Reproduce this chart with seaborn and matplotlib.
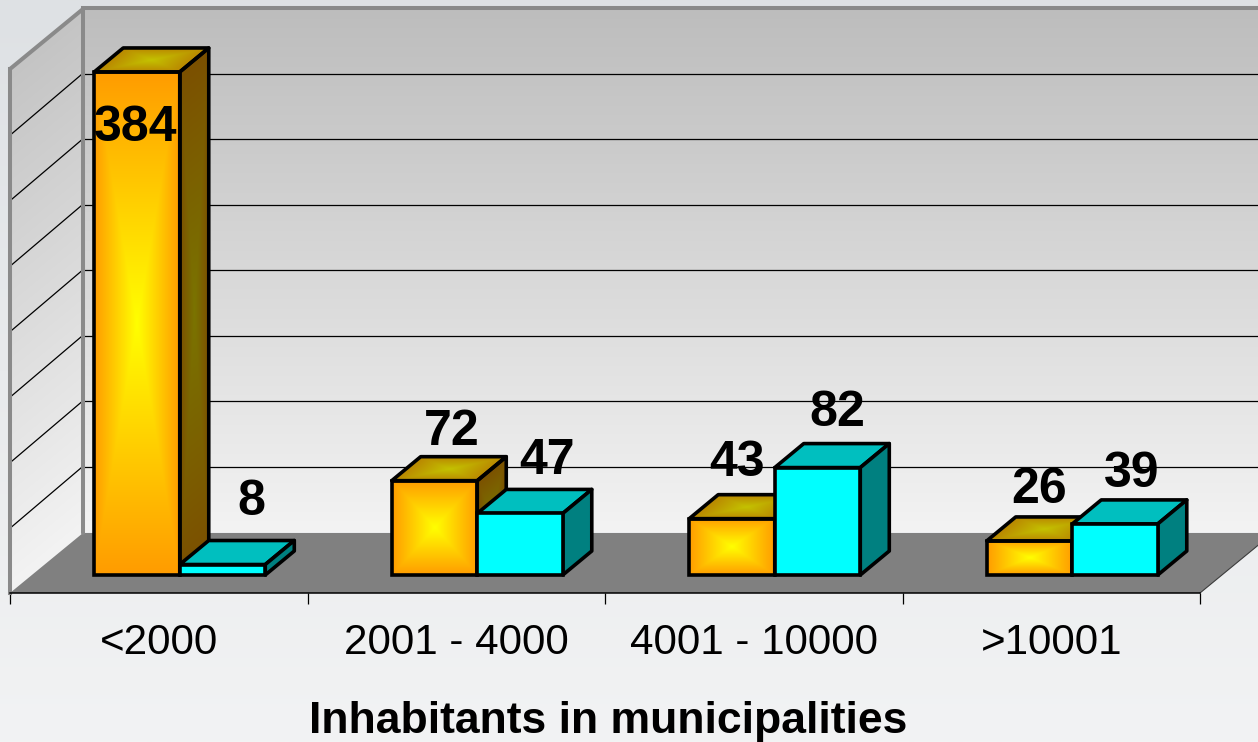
import numpy as np
import pandas as pd
import matplotlib
matplotlib.use("Agg")
import matplotlib.pyplot as plt
from matplotlib.patches import Polygon
from matplotlib.transforms import Affine2D
from matplotlib.colors import to_rgb
import seaborn as sns

categories = ["<2000", "2001 - 4000", "4001 - 10000", ">10001"]
series_names = ["A", "B"]
series_a = [384, 72, 43, 26]
series_b = [8, 47, 82, 39]
xlabel = "Inhabitants in municipalities"

W, H = 1258, 742
sns.set_theme(style="white")
plt.rcParams["font.family"] = ["Liberation Sans", "DejaVu Sans"]

fig = plt.figure(figsize=(W / 100, H / 100), dpi=100)
AW, AH = 1190, 524
XLIM = (-0.5, 3.5)
YLIM = (0, 400)
PX = AW / (XLIM[1] - XLIM[0])   # pixels per category
PY = AH / (YLIM[1] - YLIM[0])   # pixels per value unit


def px_axes(x0, ybottom, z):
    ax = fig.add_axes([x0 / W, (H - ybottom) / H, AW / W, AH / H], zorder=z)
    ax.set_xlim(*XLIM)
    ax.set_ylim(*YLIM)
    ax.set_autoscale_on(False)
    ax.patch.set_alpha(0)
    return ax


def vgrad(top, bottom, n=256):
    t = np.linspace(0, 1, n)[:, None, None]
    return (1 - t) * np.array(to_rgb(top))[None, None, :] + t * np.array(to_rgb(bottom))[None, None, :]


def box_grad(edge, centre, n=129, power=1.0):
    u = np.linspace(-1, 1, n)
    uu, vv = np.meshgrid(u, u)
    t = (1 - np.maximum(np.abs(uu), np.abs(vv)))[:, :, None] ** power
    return (1 - t) * np.array(to_rgb(edge))[None, None, :] + t * np.array(to_rgb(centre))[None, None, :]


def para_image(ax, img, origin, e1, e2, z):
    m = Affine2D.from_values(e1[0], e1[1], e2[0], e2[1], origin[0], origin[1])
    im = ax.imshow(img, extent=(0, 1, 0, 1), origin="lower", aspect="auto", interpolation="bilinear",
                   transform=m + ax.transData, zorder=z)
    o = np.array(origin, float)
    a, b = np.array(e1, float), np.array(e2, float)
    im.set_clip_box(fig.bbox)
    im.set_clip_path(Polygon([o, o + a, o + a + b, o + b], closed=True, transform=ax.transData))


# page background
ax_bg = fig.add_axes([0, 0, 1, 1], zorder=0)
ax_bg.imshow(vgrad("#DEE1E4", "#F2F3F4"), extent=(0, 1, 0, 1), aspect="auto", origin="upper")
ax_bg.set_axis_off()

# back wall
GRAY = "#8A8A8A"
WALL_LW = 2.9
ax_back = px_axes(83, 532, 1)
ax_back.imshow(vgrad("#BDBDBD", "#F3F3F3"), extent=(*XLIM, *YLIM), aspect="auto", origin="upper", zorder=0)
ax_back.set_yticks(np.arange(50, 400, 50))
ax_back.set_xticks([])
ax_back.tick_params(left=False, labelleft=False)
ax_back.grid(True, axis="y", color="black", lw=0.9)
ax_back.set_axisbelow(False)
for s in ("right", "bottom", "left"):
    ax_back.spines[s].set_visible(False)
ax_back.spines["top"].set_color(GRAY)
ax_back.spines["top"].set_linewidth(WALL_LW)

# front plane: side wall, floor, ticks and labels
ax_front = px_axes(10, 593, 2)
WX, WY = 73 / PX, 60 / PY
para_image(ax_front, vgrad("#F3F3F3", "#C4C4C4"), (XLIM[0], 0), (WX, WY), (0, YLIM[1]), 0.5)
ax_front.add_patch(Polygon([(XLIM[0], 0), (XLIM[0] + WX, WY), (XLIM[1] + WX, WY), (XLIM[1], 0)],
                           closed=True, fc="#808080", ec="none", clip_on=False, zorder=1))
ax_front.plot([XLIM[1], XLIM[1] + WX], [0, WY], color="#3C3C3C", lw=0.8, clip_on=False, zorder=1.2)
ax_front.plot([XLIM[0], XLIM[0] + WX, XLIM[0] + WX], [YLIM[1], YLIM[1] + WY, WY], color=GRAY, lw=WALL_LW,
              clip_on=False, zorder=1.2)
for v in ax_back.get_yticks():
    ax_front.plot([XLIM[0] + 0.003, XLIM[0] + WX - 0.005], [v, v + WY], color="black", lw=0.9,
                  clip_on=False, zorder=1.1)
ax_front.set_xticks(range(len(categories)))
ax_front.set_xticklabels(categories, fontsize=30.3, color="black")
ax_front.set_xticks(np.arange(XLIM[0], XLIM[1] + 0.5), minor=True)
ax_front.tick_params(axis="x", which="major", length=0, pad=21.5)
ax_front.tick_params(axis="x", which="minor", length=8, width=0.9, color="black", bottom=True)
ax_front.set_yticks([])
ax_front.set_xlabel(xlabel, fontsize=32, fontweight="bold", color="black", labelpad=27.5)
ax_front.xaxis.label.set_x(0.5025)
for s in ("top", "right"):
    ax_front.spines[s].set_visible(False)
ax_front.spines["left"].set_color(GRAY)
ax_front.spines["left"].set_linewidth(WALL_LW)
ax_front.spines["bottom"].set_color("black")
ax_front.spines["bottom"].set_linewidth(1.1)

# bars
LW = 2.6
ax_bars = px_axes(31, 575, 3)
df = pd.DataFrame({
    "category": categories * 2,
    "series": [series_names[0]] * 4 + [series_names[1]] * 4,
    "value": series_a + series_b,
})
sns.barplot(data=df, x="category", y="value", hue="series", order=categories, hue_order=series_names,
            palette=["#FF9C00", "#00FFFF"], width=0.575, errorbar=None, legend=False,
            saturation=1, edgecolor="black", linewidth=LW, ax=ax_bars)
ax_bars.set_xlim(*XLIM)
ax_bars.set_ylim(*YLIM)
ax_bars.set_axis_off()

DX, DY = 29 / PX, 24 / PY
# individual label offsets (pixels) from the top centre of each bar front
offsets = [(-1, -56), (17, 49), (5, 56), (10, 51), (29, 63), (27, 52), (20, 55), (17, 50)]
values = series_a + series_b
for i, bar in enumerate(ax_bars.patches[:8]):
    x, bw, h = bar.get_x(), bar.get_width(), bar.get_height()
    orange = i < 4
    z = 2 + (0 if orange else 2)
    bar.set_clip_on(False)
    bar.set_zorder(z + 0.5)
    top_pts = [(x, h), (x + bw, h), (x + bw + DX, h + DY), (x + DX, h + DY)]
    side_pts = [(x + bw, 0), (x + bw + DX, DY), (x + bw + DX, h + DY), (x + bw, h)]
    if orange:
        bar.set_facecolor((0, 0, 0, 0))
        para_image(ax_bars, box_grad("#FF9C00", "#FFFF00"), (x, 0), (bw, 0), (0, h), z)
        para_image(ax_bars, box_grad("#B98600", "#C4C200"), (x, h), (bw, 0), (DX, DY), z)
        para_image(ax_bars, box_grad("#7C5000", "#7A7400"), (x + bw, 0), (DX, DY), (0, h), z)
        top_fc = side_fc = "none"
    else:
        top_fc, side_fc = "#00BFBF", "#008080"
    ax_bars.add_patch(Polygon(top_pts, closed=True, fc=top_fc, ec="black", lw=LW, joinstyle="round",
                              clip_on=False, zorder=z + 0.3))
    ax_bars.add_patch(Polygon(side_pts, closed=True, fc=side_fc, ec="black", lw=LW, joinstyle="round",
                              clip_on=False, zorder=z + 0.3))
    ax_bars.annotate(str(values[i]), xy=(x + bw / 2, h), xytext=offsets[i], textcoords="offset pixels",
                     ha="center", va="center", fontsize=36, fontweight="bold", color="black",
                     annotation_clip=False, zorder=10)

fig.savefig("out.png", dpi=100)
